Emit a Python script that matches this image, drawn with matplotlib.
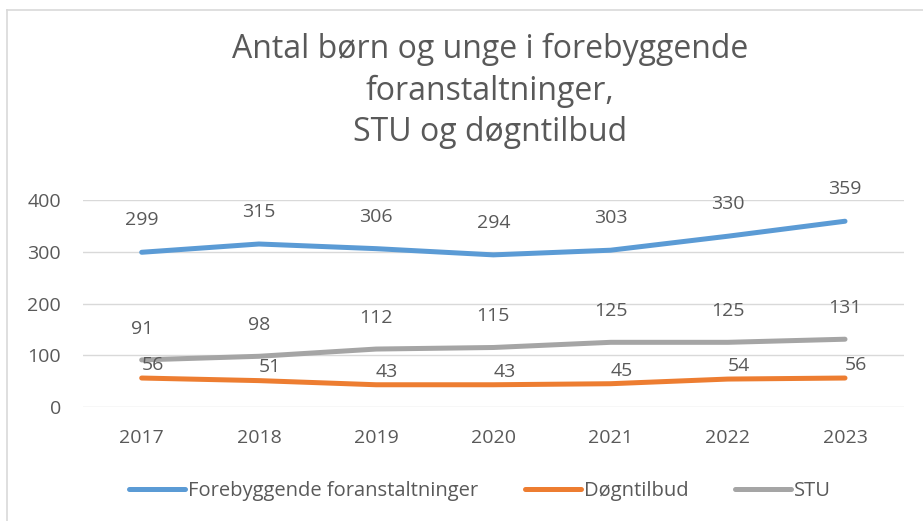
import matplotlib
matplotlib.use('Agg')
import matplotlib.pyplot as plt
from matplotlib.lines import Line2D

years = ['2017', '2018', '2019', '2020', '2021', '2022', '2023']
forebyggende = [299, 315, 306, 294, 303, 330, 359]
doegntilbud = [56, 51, 43, 43, 45, 54, 56]
stu = [91, 98, 112, 115, 125, 125, 131]

txt = '#595959'
plt.rcParams['font.family'] = ['Open Sans', 'DejaVu Sans']

fig = plt.figure(figsize=(9.23, 5.21), dpi=100)
ax = fig.add_axes([0.09, 0.2188, 0.889, 0.3973])

x = range(len(years))
series = [
    ('Forebyggende foranstaltninger', forebyggende, '#5B9BD5', (0, 23)),
    ('Døgntilbud', doegntilbud, '#ED7D31', (8, 9.5)),
    ('STU', stu, '#A5A5A5', (0, 22.5)),
]
for name, vals, col, off in series:
    ax.plot(x, vals, color=col, lw=3.6, solid_capstyle='round', label=name, zorder=3)
    for xi, v in zip(x, vals):
        ax.annotate(str(v), (xi, v), xytext=off, textcoords='offset points',
                    ha='center', va='center', fontsize=14, color=txt, zorder=4)

ax.set_xlim(-0.5, len(years) - 0.5)
ax.set_ylim(0, 400)
ax.set_yticks([0, 100, 200, 300, 400])
ax.set_xticks(list(x))
ax.set_xticklabels(years)
ax.grid(axis='y', color='#D9D9D9', lw=1)
ax.set_axisbelow(True)
for s in ax.spines.values():
    s.set_visible(False)
ax.tick_params(length=0, labelsize=14, colors=txt)
ax.tick_params(axis='y', pad=16)
ax.tick_params(axis='x', pad=16)

fig.text(0.531, 0.825, 'Antal børn og unge i forebyggende\nforanstaltninger,\nSTU og døgntilbud',
         ha='center', va='center', fontsize=23, color=txt, linespacing=1.33)

handles = [Line2D([], [], color=c, lw=3.6, solid_capstyle='round') for _, _, c, _ in series]
fig.legend(handles, [n for n, _, _, _ in series], loc='center', bbox_to_anchor=(0.52, 0.057),
           ncol=3, frameon=False, fontsize=14.5, labelcolor=txt, handlelength=2.8,
           handletextpad=0.15, columnspacing=2.3)

# light frame on top and left edge
fig.add_artist(Line2D([0.008, 1.0], [0.981, 0.981], color='#D9D9D9', lw=1.2, transform=fig.transFigure))
fig.add_artist(Line2D([0.008, 0.008], [0.0, 0.981], color='#D9D9D9', lw=1.2, transform=fig.transFigure))

fig.savefig('out.png', dpi=100)
